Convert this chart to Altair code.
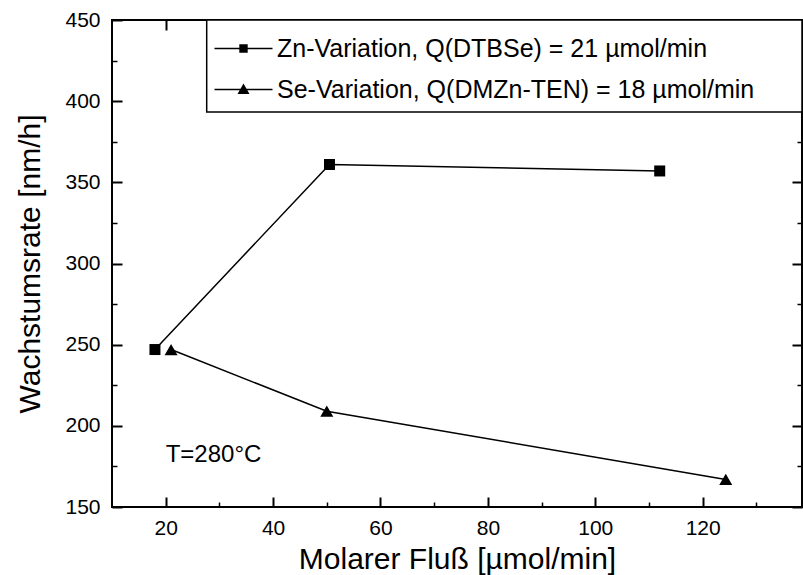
import altair as alt
import pandas as pd

# ---------------- data ----------------
series_names = [
    "Zn-Variation, Q(DTBSe) = 21 µmol/min",
    "Se-Variation, Q(DMZn-TEN) = 18 µmol/min",
]
zn_x = [18, 50.5, 112]
zn_y = [247, 361, 357]
se_x = [21, 50, 124.3]
se_y = [247, 209, 167]

x_major = [20, 40, 60, 80, 100, 120]
x_minor = [30, 50, 70, 90, 110, 130]
y_major = [150, 200, 250, 300, 350, 400, 450]
y_minor = [175, 225, 275, 325, 375, 425]
x_domain = [10, 138.5]
y_domain = [150, 450]

x_title = "Molarer Fluß [µmol/min]"
y_title = "Wachstumsrate [nm/h]"
note_text = ["T=280°C"]
note_x = [20]
note_y = [182]

FONT = "Liberation Sans"

df = pd.DataFrame({
    "x": zn_x + se_x,
    "y": zn_y + se_y,
    "series": [series_names[0]] * len(zn_x) + [series_names[1]] * len(se_x),
})
note_df = pd.DataFrame({"x": note_x, "y": note_y, "t": note_text})

xs = alt.Scale(domain=x_domain, nice=False, zero=False)
ys = alt.Scale(domain=y_domain, nice=False, zero=False)


def tick_axis(orient, values, size, width):
    return alt.Axis(orient=orient, values=values, labels=False, title=None,
                    domain=False, grid=False, ticks=True, tickSize=size,
                    tickWidth=width, tickColor="black", offset=-size)


def tick_layer(xaxis, yaxis):
    return alt.Chart(df).transform_filter("false").mark_point(opacity=0).encode(
        x=alt.X("x:Q", scale=xs, axis=xaxis),
        y=alt.Y("y:Q", scale=ys, axis=yaxis),
    )


main_x_axis = alt.Axis(orient="bottom", values=x_major, format="d", ticks=False,
                       domain=False, grid=False, labelFont=FONT, labelFontSize=21,
                       labelColor="black", labelPadding=10, title=x_title,
                       titleFont=FONT, titleFontSize=30, titleFontWeight="normal",
                       titleColor="black", titlePadding=6)
main_y_axis = alt.Axis(orient="left", values=y_major, format="d", ticks=False,
                       domain=False, grid=False, labelFont=FONT, labelFontSize=21,
                       labelColor="black", labelPadding=12, title=y_title,
                       titleFont=FONT, titleFontSize=30, titleFontWeight="normal",
                       titleColor="black", titlePadding=19)

legend_box = alt.Chart(pd.DataFrame({"a": [0]})).mark_rect(
    fill="white", stroke="black", strokeWidth=1.5
).encode(x=alt.value(94.7), x2=alt.value(690), y=alt.value(0), y2=alt.value(92))

lines = alt.Chart(df).mark_line(color="black", strokeWidth=1.5).encode(
    x=alt.X("x:Q", scale=xs, axis=main_x_axis),
    y=alt.Y("y:Q", scale=ys, axis=main_y_axis),
    detail="series:N",
)

points = alt.Chart(df).mark_point(filled=True, color="black", opacity=1).encode(
    x=alt.X("x:Q", scale=xs, axis=None),
    y=alt.Y("y:Q", scale=ys, axis=None),
    shape=alt.Shape("series:N", scale=alt.Scale(domain=series_names,
                                                range=["square", "triangle-up"]),
                    legend=None),
    size=alt.Size("series:N", scale=alt.Scale(domain=series_names, range=[121, 169]),
                  legend=None),
)

sq_path = "M-2.9,-0.075H2.9V0.075H-2.9ZM-0.42,-0.42H0.42V0.42H-0.42Z"
tri_path = "M-2.9,-0.075H2.9V0.075H-2.9ZM0,-0.6L0.6,0.45L-0.6,0.45Z"

legend_layer = alt.Chart(df).transform_filter("false").mark_point(
    fill="black", stroke="black", strokeWidth=0.5, opacity=1, filled=True
).encode(
    x=alt.X("x:Q", scale=xs, axis=None),
    y=alt.Y("y:Q", scale=ys, axis=None),
    shape=alt.Shape("series:N",
                    scale=alt.Scale(domain=series_names, range=[sq_path, tri_path]),
                    legend=alt.Legend(title=None, orient="none", legendX=119, legendY=16,
                                      labelFont=FONT, labelFontSize=25, labelColor="black",
                                      labelLimit=600, symbolSize=400, symbolStrokeWidth=0.5,
                                      symbolFillColor="black", symbolStrokeColor="black",
                                      symbolOpacity=1, rowPadding=15, labelOffset=21,
                                      padding=0)),
)

note = alt.Chart(note_df).mark_text(align="left", baseline="middle", font=FONT,
                                    fontSize=24, color="black").encode(
    x=alt.X("x:Q", scale=xs, axis=None),
    y=alt.Y("y:Q", scale=ys, axis=None),
    text="t:N",
)

major_a = tick_layer(tick_axis("bottom", x_major, 10, 2), tick_axis("left", y_major, 10, 2))
major_b = tick_layer(tick_axis("top", x_major, 10, 2), tick_axis("right", y_major, 10, 2))
minor_a = tick_layer(tick_axis("bottom", x_minor, 5, 1.5), tick_axis("left", y_minor, 5, 1.5))
minor_b = tick_layer(tick_axis("top", x_minor, 5, 1.5), tick_axis("right", y_minor, 5, 1.5))

chart = alt.layer(
    legend_box, lines, points, legend_layer, note, major_a, major_b, minor_a, minor_b
).resolve_axis(x="independent", y="independent").resolve_scale(
    shape="independent", size="independent"
).resolve_legend(shape="independent", size="independent").properties(
    width=690, height=487,
    autosize=alt.AutoSizeParams(type="none"),
    padding={"left": 112, "top": 20, "right": 1, "bottom": 68},
    background="white",
).configure_view(stroke="black", strokeWidth=2)

chart.save("out.html", embed_options={"renderer": "svg", "actions": False})
